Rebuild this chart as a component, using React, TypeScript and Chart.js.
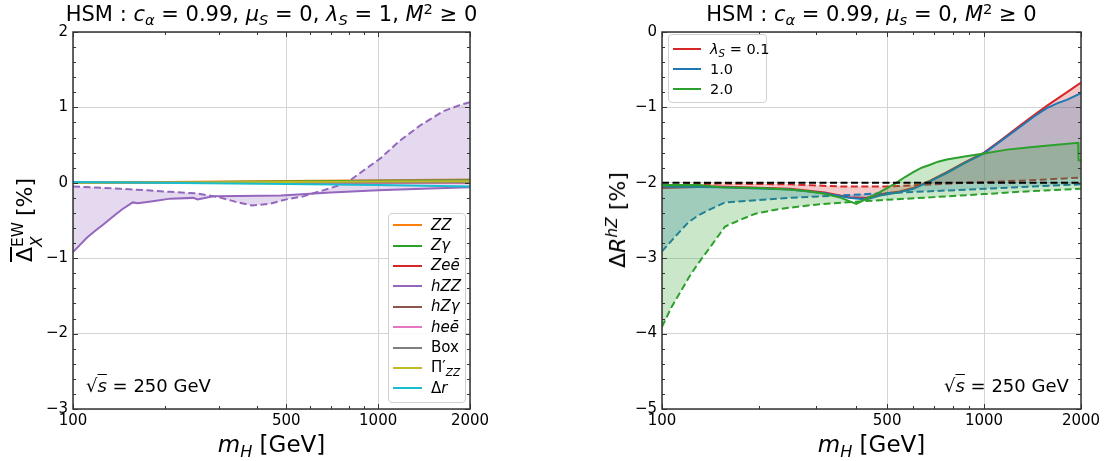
import React, { useEffect, useRef } from 'react';
import { Chart, registerables } from 'chart.js';
Chart.register(...registerables);

const FONT = '"DejaVu Sans", "Noto Sans", sans-serif';

// ---------- shared axis ticks ----------
const X_MAJOR = [100, 500, 1000, 2000];
const X_MINOR = [200, 300, 400, 600, 700, 800, 900];

// ---------- left panel: Delta_X^EW [%] ----------
const hzzSolidMass = [100, 105, 111, 118, 126, 135, 145, 157, 163, 185, 208, 248, 256, 288, 350, 480, 700, 1000, 1400, 2000];
const hzzSolidVal = [-0.92, -0.83, -0.73, -0.64, -0.55, -0.45, -0.35, -0.26, -0.27, -0.24, -0.21, -0.2, -0.22, -0.18, -0.175, -0.17, -0.13, -0.1, -0.08, -0.058];
const hzzDashMass = [100, 115, 143, 175, 208, 254, 300, 340, 385, 440, 500, 568, 661, 789, 900, 1014, 1180, 1372, 1636, 1850, 2000];
const hzzDashVal = [-0.05, -0.06, -0.08, -0.1, -0.12, -0.14, -0.19, -0.25, -0.3, -0.28, -0.22, -0.18, -0.1, 0.0, 0.17, 0.32, 0.56, 0.76, 0.95, 1.03, 1.07];

const smallMass = [100, 500, 1000, 2000];
const zzVal = [0.0, 0.025, 0.035, 0.045];
const zgVal = [0.0, 0.018, 0.027, 0.035];
const zeeVal = [0.0, 0.005, 0.008, 0.01];
const hzgVal = [0.0, 0.0, 0.0, 0.0];
const heeVal = [0.0, 0.002, 0.003, 0.004];
const boxVal = [0.0, 0.006, 0.01, 0.012];
const pizzVal = [0.0, 0.012, 0.018, 0.022];
const drVal = [0.01, -0.015, -0.03, -0.05];

// ---------- right panel: Delta R^hZ [%] ----------
const refMass = [100, 2000];
const refVal = [-2, -2];

const l01SolidMass = [100, 150, 250, 320, 380, 430, 476, 540, 603, 680, 766, 870, 1000, 1140, 1293, 1430, 1566, 1806, 2000];
const l01SolidVal = [-2.07, -2.05, -2.08, -2.13, -2.19, -2.2, -2.15, -2.12, -2.07, -1.97, -1.86, -1.73, -1.6, -1.42, -1.24, -1.1, -0.98, -0.8, -0.67];
const l01DashMass = [100, 120, 150, 250, 362, 500, 700, 1000, 1500, 2000];
const l01DashVal = [-2.05, -2.02, -2.01, -2.02, -2.05, -2.05, -2.02, -1.99, -1.96, -1.93];

const l10SolidMass = [100, 150, 250, 320, 380, 430, 476, 540, 603, 680, 766, 870, 1000, 1140, 1293, 1430, 1566, 1700, 1806, 2000];
const l10SolidVal = [-2.05, -2.06, -2.09, -2.14, -2.2, -2.22, -2.17, -2.13, -2.08, -1.98, -1.87, -1.74, -1.61, -1.43, -1.26, -1.12, -1.01, -0.94, -0.9, -0.81];
const l10DashMass = [100, 110, 121, 130, 140, 157, 200, 247, 353, 476, 700, 1000, 1400, 2000];
const l10DashVal = [-2.91, -2.71, -2.52, -2.43, -2.36, -2.26, -2.23, -2.2, -2.17, -2.14, -2.11, -2.08, -2.05, -2.02];

const l20SolidMass = [100, 130, 153, 200, 247, 280, 314, 360, 401, 476, 529, 570, 603, 640, 680, 720, 766, 870, 1000, 1180, 1389, 1650, 1960, 1965, 2000];
const l20SolidVal = [-2.03, -2.03, -2.06, -2.07, -2.09, -2.11, -2.14, -2.2, -2.28, -2.12, -2.01, -1.92, -1.86, -1.8, -1.76, -1.72, -1.69, -1.65, -1.61, -1.56, -1.53, -1.5, -1.47, -1.7, -1.7];
const l20DashMass = [100, 107, 114, 121, 128, 143, 157, 175, 195, 230, 260, 300, 400, 476, 700, 1000, 1400, 2000];
const l20DashVal = [-3.91, -3.65, -3.45, -3.26, -3.1, -2.82, -2.58, -2.49, -2.41, -2.35, -2.32, -2.29, -2.25, -2.23, -2.19, -2.15, -2.11, -2.08];

// ---------- colours ----------
const C = {
  blue: '#1f77b4', orange: '#ff7f0e', green: '#2ca02c', red: '#d62728', purple: '#9467bd',
  brown: '#8c564b', pink: '#e377c2', gray: '#7f7f7f', olive: '#bcbd22', cyan: '#17becf',
};
const fillOf = (hex: string, a: number) => {
  const n = parseInt(hex.slice(1), 16);
  return `rgba(${(n >> 16) & 255},${(n >> 8) & 255},${n & 255},${a})`;
};

const pts = (xs: number[], ys: number[]) => xs.map((x, i) => ({ x, y: ys[i] }));

const line = (label: string, xs: number[], ys: number[], color: string, extra: any = {}) => ({
  label,
  data: pts(xs, ys),
  borderColor: color,
  backgroundColor: color,
  borderWidth: 2,
  pointRadius: 0,
  tension: 0,
  fill: false,
  ...extra,
});

const DASH = [7, 3.5];

const framePlugin = {
  id: 'frameTicks',
  afterDatasetsDraw(chart: any) {
    const { ctx, chartArea, scales } = chart;
    const { left, right, top, bottom } = chartArea;
    const xs = scales.x;
    const ys = scales.y;
    ctx.save();
    ctx.strokeStyle = '#333';
    ctx.lineWidth = 1;
    ctx.beginPath();
    const xt = (v: number, len: number) => {
      const p = Math.round(xs.getPixelForValue(v)) + 0.5;
      ctx.moveTo(p, bottom); ctx.lineTo(p, bottom - len);
      ctx.moveTo(p, top); ctx.lineTo(p, top + len);
    };
    X_MAJOR.forEach((v) => xt(v, 5));
    X_MINOR.forEach((v) => xt(v, 3));
    const yMin = ys.min, yMax = ys.max;
    for (let k = Math.round(yMin * 5); k <= Math.round(yMax * 5); k++) {
      const v = k / 5;
      const len = k % 5 === 0 ? 5 : 3;
      const p = Math.round(ys.getPixelForValue(v)) + 0.5;
      ctx.moveTo(left, p); ctx.lineTo(left + len, p);
      ctx.moveTo(right, p); ctx.lineTo(right - len, p);
    }
    ctx.stroke();
    ctx.lineWidth = 1.5;
    ctx.strokeStyle = '#333';
    ctx.strokeRect(left, top, right - left, bottom - top);
    ctx.restore();
  },
};

const fmtY = (v: number) => (v < 0 ? '\u2212' + Math.abs(v) : String(v));

function makeOptions(yMin: number, yMax: number, yWidth: number, padRight: number) {
  return {
    responsive: false,
    animation: false as const,
    devicePixelRatio: 1,
    layout: { padding: { top: 32, right: padRight, bottom: 0, left: 0 } },
    plugins: { legend: { display: false }, title: { display: false }, tooltip: { enabled: false } },
    scales: {
      x: {
        type: 'logarithmic' as const,
        min: 100,
        max: 2000,
        afterBuildTicks: (s: any) => { s.ticks = X_MAJOR.map((v) => ({ value: v })); },
        afterFit: (s: any) => { s.height = 52; },
        ticks: {
          autoSkip: false, maxRotation: 0, minRotation: 0, padding: 3, color: '#000',
          font: { family: FONT, size: 15 },
          callback: (v: any) => String(v),
        },
        grid: { color: '#d4d4d4', lineWidth: 1, drawTicks: false },
        border: { display: false },
      },
      y: {
        type: 'linear' as const,
        min: yMin,
        max: yMax,
        afterBuildTicks: (s: any) => {
          const t = [];
          for (let v = yMin; v <= yMax; v++) t.push({ value: v });
          s.ticks = t;
        },
        afterFit: (s: any) => { s.width = yWidth; },
        ticks: { padding: 5, color: '#000', font: { family: FONT, size: 15 }, callback: (v: any) => fmtY(v) },
        grid: { color: '#d4d4d4', lineWidth: 1, drawTicks: false },
        border: { display: false },
      },
    },
  };
}

const Sub = ({ children }: any) => (
  <span style={{ fontSize: '0.7em', position: 'relative', top: '0.3em' }}>{children}</span>
);
const Sup = ({ children }: any) => (
  <span style={{ fontSize: '0.7em', position: 'relative', top: '-0.5em' }}>{children}</span>
);

const abs = (extra: any): any => ({ position: 'absolute', whiteSpace: 'pre', fontFamily: FONT, color: '#000', ...extra });

const LegendRow = ({ color, h, lineW, gap, children }: any) => (
  <div style={{ display: 'flex', alignItems: 'center', height: h }}>
    <div style={{ width: lineW, height: 2, background: color, marginLeft: 4, flex: 'none' }} />
    <div style={{ marginLeft: gap, lineHeight: 1, whiteSpace: 'pre' }}>{children}</div>
  </div>
);

export default function App() {
  const leftRef = useRef<HTMLCanvasElement>(null);
  const rightRef = useRef<HTMLCanvasElement>(null);

  useEffect(() => {
    const left = new Chart(leftRef.current as HTMLCanvasElement, {
      type: 'line',
      data: {
        datasets: [
          line('Δr', smallMass, drVal, C.cyan),
          line("Π'ZZ", smallMass, pizzVal, C.olive),
          line('Box', smallMass, boxVal, C.gray),
          line('heē', smallMass, heeVal, C.pink),
          line('hZγ', smallMass, hzgVal, C.brown),
          line('hZZ', hzzSolidMass, hzzSolidVal, C.purple, { fill: { target: 6 }, backgroundColor: fillOf(C.purple, 0.25) }),
          line('hZZ dashed', hzzDashMass, hzzDashVal, C.purple, { borderDash: DASH }),
          line('Zeē', smallMass, zeeVal, C.red),
          line('Zγ', smallMass, zgVal, C.green),
          line('ZZ', smallMass, zzVal, C.orange),
        ],
      },
      options: makeOptions(-3, 2, 73, 83) as any,
      plugins: [framePlugin],
    });
    const right = new Chart(rightRef.current as HTMLCanvasElement, {
      type: 'line',
      data: {
        datasets: [
          line('reference', refMass, refVal, '#000', { borderDash: DASH }),
          line('2.0', l20SolidMass, l20SolidVal, C.green, { fill: { target: 2 }, backgroundColor: fillOf(C.green, 0.25) }),
          line('2.0 dashed', l20DashMass, l20DashVal, C.green, { borderDash: DASH }),
          line('1.0', l10SolidMass, l10SolidVal, C.blue, { fill: { target: 4 }, backgroundColor: fillOf(C.blue, 0.25) }),
          line('1.0 dashed', l10DashMass, l10DashVal, C.blue, { borderDash: DASH }),
          line('λS = 0.1', l01SolidMass, l01SolidVal, C.red, { fill: { target: 6 }, backgroundColor: fillOf(C.red, 0.25) }),
          line('0.1 dashed', l01DashMass, l01DashVal, C.red, { borderDash: DASH }),
        ],
      },
      options: makeOptions(-5, 0, 109, 26) as any,
      plugins: [framePlugin],
    });
    return () => {
      left.destroy();
      right.destroy();
    };
  }, []);

  const leftLegend = [
    { c: C.orange, t: <i>ZZ</i> },
    { c: C.green, t: <i>Zγ</i> },
    { c: C.red, t: <i>Zeē</i> },
    { c: C.purple, t: <i>hZZ</i> },
    { c: C.brown, t: <i>hZγ</i> },
    { c: C.pink, t: <i>heē</i> },
    { c: C.gray, t: <span>Box</span> },
    { c: C.olive, t: <span>Π′<Sub><i>ZZ</i></Sub></span> },
    { c: C.cyan, t: <span>Δ<i>r</i></span> },
  ];

  return (
    <div style={{ position: 'absolute', left: 0, top: 0, width: 1107, height: 461, background: '#fff', overflow: 'hidden' }}>
      <canvas ref={leftRef} width={553} height={461} style={{ position: 'absolute', left: 0, top: 0, width: 553, height: 461 }} />
      <canvas ref={rightRef} width={554} height={461} style={{ position: 'absolute', left: 553, top: 0, width: 554, height: 461 }} />

      {/* titles */}
      <div style={abs({ left: 271.5, top: 2, fontSize: 21, lineHeight: '25px', transform: 'translateX(-50%)' })}>
        HSM : <i>c</i><Sub><i>α</i></Sub> = 0.99, <i>μ</i><Sub><i>S</i></Sub> = 0, <i>λ</i><Sub><i>S</i></Sub> = 1, <i>M</i><Sup>2</Sup> ≥ 0
      </div>
      <div style={abs({ left: 871.5, top: 2, fontSize: 21, lineHeight: '25px', transform: 'translateX(-50%)' })}>
        HSM : <i>c</i><Sub><i>α</i></Sub> = 0.99, <i>μ</i><Sub><i>s</i></Sub> = 0, <i>M</i><Sup>2</Sup> ≥ 0
      </div>

      {/* x labels */}
      <div style={abs({ left: 271.5, top: 431, fontSize: 23, lineHeight: '27px', transform: 'translateX(-50%)' })}>
        <i>m</i><Sub><i>H</i></Sub> [GeV]
      </div>
      <div style={abs({ left: 871.5, top: 431, fontSize: 23, lineHeight: '27px', transform: 'translateX(-50%)' })}>
        <i>m</i><Sub><i>H</i></Sub> [GeV]
      </div>

      {/* y labels */}
      <div style={abs({ left: 25, top: 220, fontSize: 22, lineHeight: '26px', transform: 'translate(-50%,-50%) rotate(-90deg)' })}>
        <span style={{ textDecoration: 'overline' }}>Δ</span>
        <span style={{ display: 'inline-block', position: 'relative', fontSize: '0.7em', width: '1.55em', height: '1em' }}>
          <span style={{ position: 'absolute', left: 0, top: '-0.75em' }}>EW</span>
          <span style={{ position: 'absolute', left: 0, top: '0.45em' }}><i>X</i></span>
        </span>
        {' '}[%]
      </div>
      <div style={abs({ left: 619, top: 220, fontSize: 22, lineHeight: '26px', transform: 'translate(-50%,-50%) rotate(-90deg)' })}>
        Δ<i>R</i><Sup><i>hZ</i></Sup> [%]
      </div>

      {/* sqrt(s) annotations */}
      <div style={abs({ left: 86, top: 375, fontSize: 18, lineHeight: '22px' })}>
        √<span style={{ textDecoration: 'overline' }}><i>s</i></span> = 250 GeV
      </div>
      <div style={abs({ left: 944, top: 375, fontSize: 18, lineHeight: '22px' })}>
        √<span style={{ textDecoration: 'overline' }}><i>s</i></span> = 250 GeV
      </div>

      {/* left legend */}
      <div style={abs({ left: 388, top: 213, width: 78, height: 190, boxSizing: 'border-box', border: '1px solid #d0d0d0', borderRadius: 4, background: 'rgba(255,255,255,0.85)', fontSize: 15, paddingTop: 1 })}>
        {leftLegend.map((r, i) => (
          <LegendRow key={i} color={r.c} h={20.4} lineW={29} gap={9}>{r.t}</LegendRow>
        ))}
      </div>

      {/* right legend */}
      <div style={abs({ left: 668, top: 34, width: 99, height: 69, boxSizing: 'border-box', border: '1px solid #d0d0d0', borderRadius: 4, background: 'rgba(255,255,255,0.85)', fontSize: 14.5, paddingTop: 4 })}>
        <LegendRow color={C.red} h={20} lineW={28} gap={9}><i>λ</i><Sub><i>S</i></Sub> = 0.1</LegendRow>
        <LegendRow color={C.blue} h={20} lineW={28} gap={9}>1.0</LegendRow>
        <LegendRow color={C.green} h={20} lineW={28} gap={9}>2.0</LegendRow>
      </div>
    </div>
  );
}
